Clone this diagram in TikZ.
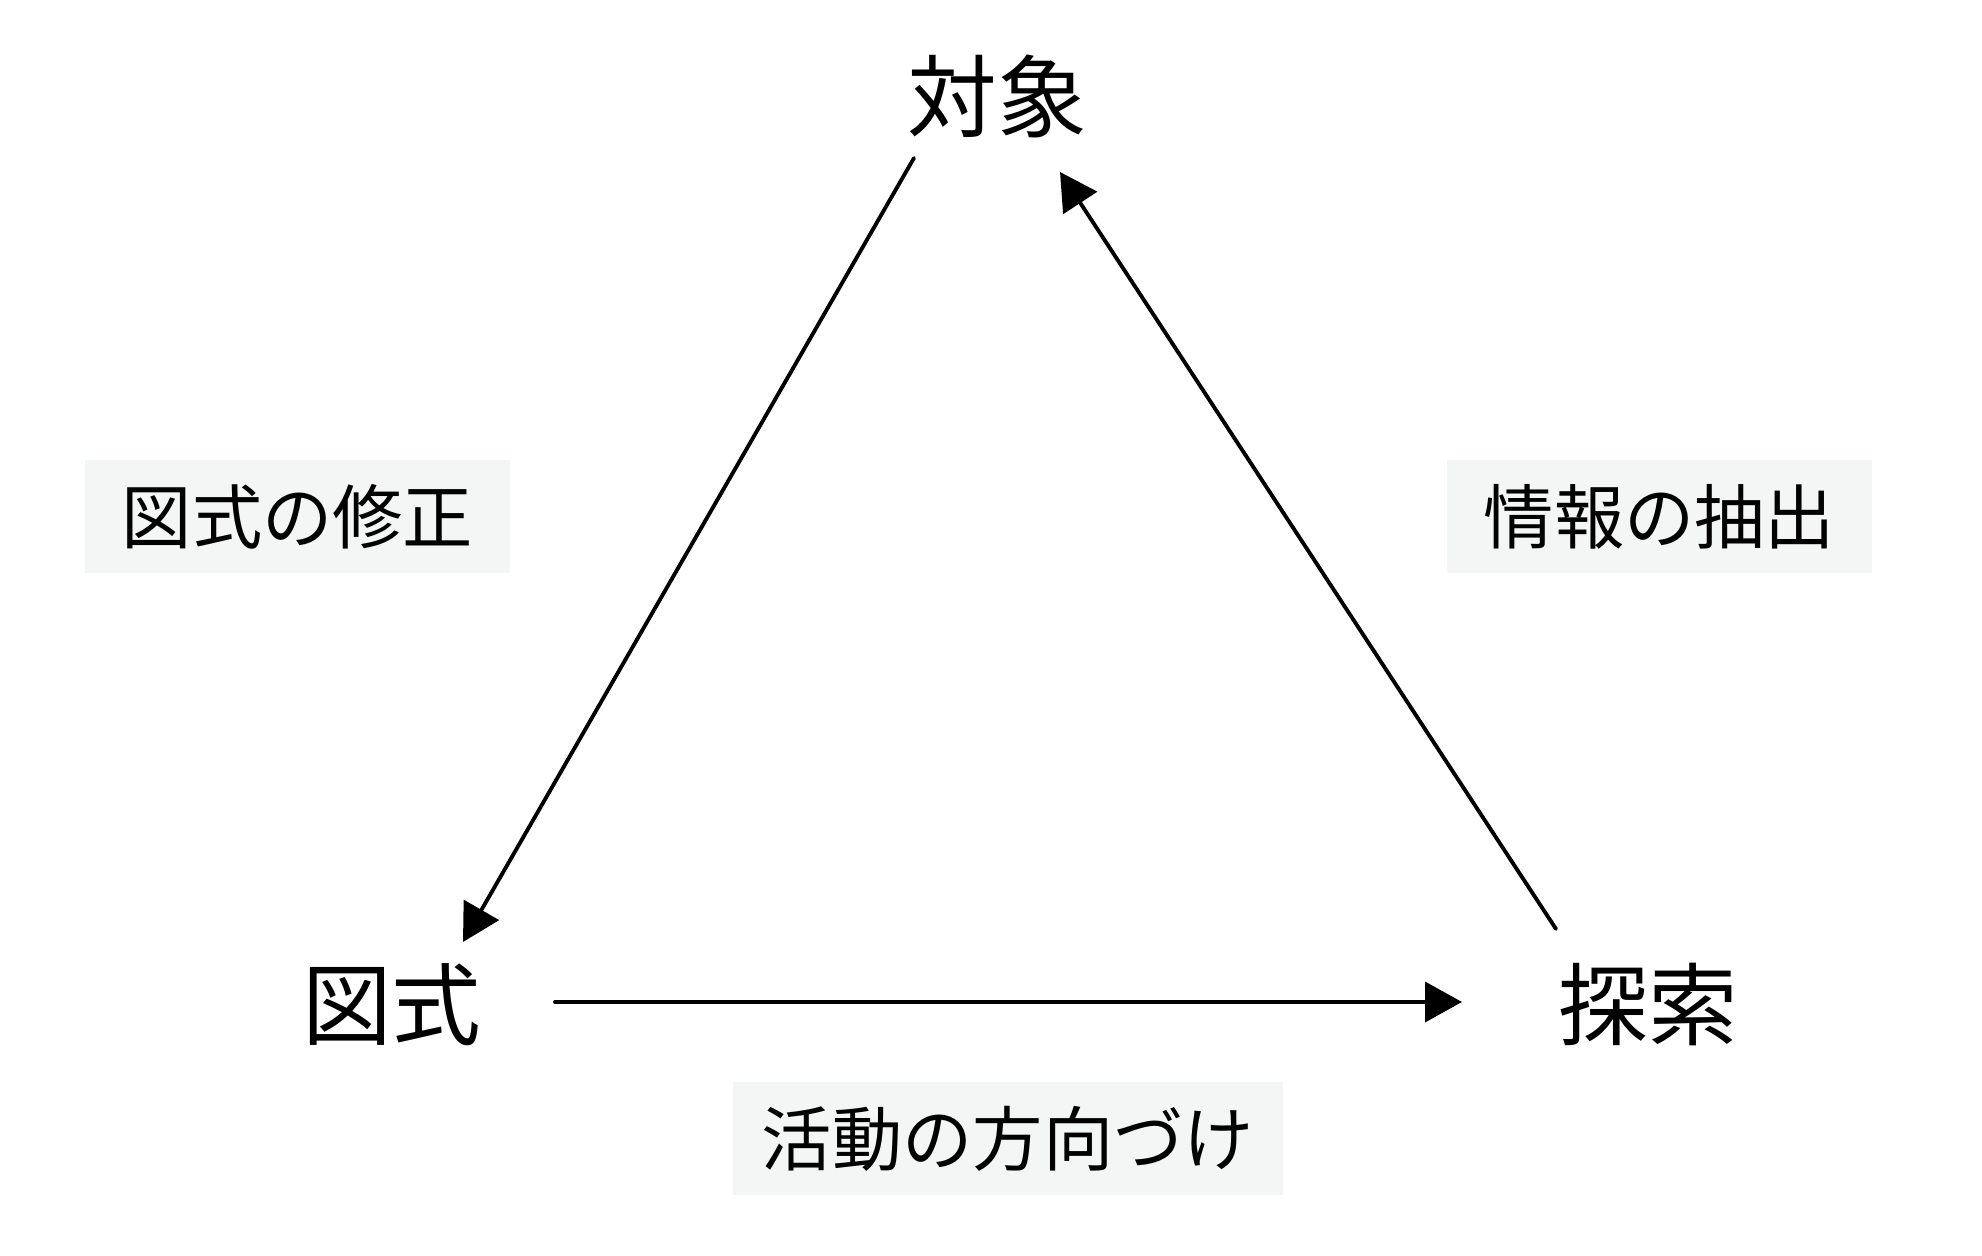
\documentclass[tikz,border=0pt]{standalone}
\usepackage{fontspec}
\newfontfamily\jpfont{Noto Sans CJK JP}
\usepackage{tikz}
\usetikzlibrary{arrows.meta}
\usepackage{xcolor}
\definecolor{tagfill}{RGB}{244,246,246}

\begin{document}
\begin{tikzpicture}[>={Triangle[length=3.7mm,width=4mm]},line cap=round,
  vertex/.style={font=\jpfont\fontsize{25.5}{30}\selectfont,inner sep=0pt},
  tag/.style={fill=tagfill,font=\jpfont\fontsize{20}{24}\selectfont,minimum height=1.13cm,inner sep=0pt},
  link/.style={->,line width=1.1pt}]
\useasboundingbox (0,0) rectangle (19.82,12.56);
% corners of the triangle
\node[vertex] (taisho) at (9.97,11.60) {対象};
\node[vertex] (zushiki) at (3.92,2.51) {図式};
\node[vertex] (tansaku) at (16.48,2.51) {探索};
% labels on the sides
\node[tag,minimum width=4.25cm] (shusei) at (2.975,7.395) {図式の修正};
\node[tag,minimum width=4.25cm] (chushutsu) at (16.595,7.395) {情報の抽出};
\node[tag,minimum width=5.50cm] (hoko) at (10.08,1.175) {活動の方向づけ};
% arrows
\draw[link] ([shift={(-0.83,-0.62)}]taisho.center) -- ([shift={(0.71,0.63)}]zushiki.center);
\draw[link] ([shift={(1.63,0.03)}]zushiki.center) -- ([shift={(-1.86,0.03)}]tansaku.center);
\draw[link] ([shift={(-0.92,0.76)}]tansaku.center) -- ([shift={(0.63,-0.76)}]taisho.center);
\end{tikzpicture}
\end{document}
